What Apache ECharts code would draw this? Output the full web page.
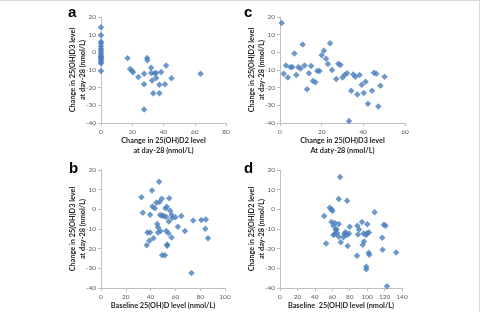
<!DOCTYPE html>
<html><head><meta charset="utf-8">
<script src="https://cdn.jsdelivr.net/npm/echarts@6/dist/echarts.min.js"></script>
<style>html,body{margin:0;padding:0;background:#fff}#c{width:480px;height:312px}</style>
</head><body><div id="c"></div>
<script>
// Panel a: x = change in 25(OH)D2, y = change in 25(OH)D3
const aX = [0,0,0,0,0,0,0,0,0,0,0,0,0,0,0,0, 17,18.6,19.9,20.5,23.9,27.6,27.6,27.6,29.5,29.7,32.1,32.1,32.7,33.4,35.3,35.3,37.4,37.4,38.5,40.9,41.7,45.1,63.7,34.2];
const aY = [14.2,9.6,6,5,3.5,2,1,-0.3,-1.3,-2.3,-3.3,-4.3,-5.3,-6.3,-2.8,-10.6, -3.4,-9.4,-10.4,-11.3,-13.9,-12.1,-18.1,-32.4,-3.2,-4.5,-8.7,-11.7,-16,-23.2,-11.7,-14.5,-18.3,-23.2,-11.1,-18.1,-7.4,-14.7,-12.1,-11.9];
// Panel b: x = baseline 25(OH)D, y = change in 25(OH)D3
const bX = [32.6,33.7,37.5,36.9,39.6,39.6,39,41.2,41.5,42.3,43.4,44.7,45.3,46,46,46.9,47.2,47.7,48,49,49.3,49.3,50.7,51.5,52,52.6,52.6,53.1,53.4,53.4,54.4,54.7,55,55.8,56.9,56.9,57.4,60,62,64.7,67.7,73,74.4,80.9,84.6,84.1,86.3];
const bY = [6.1,-1.7,-11.8,-18.2,-2.7,-11.8,-16,9.6,1.5,-14.7,0.5,3.4,-7.4,-9.1,-11.8,14,3.7,-2.9,-11,5.4,-3.2,-23.3,-3.4,-23.3,0.5,-3.9,-11,1.3,-17.9,-18.5,-12.1,-6.2,5.6,-0.7,-2.7,-14.3,-4.4,-4,-8.9,-3.4,-11,-32.4,-5.7,-5.4,-5.2,-9.9,-14.7];
// Panel c: x = change in 25(OH)D3, y = change in 25(OH)D2
const cX = [0.8,1.8,2.9,3.8,5,5.9,6.9,7.8,8.8,9.9,10.9,11.8,13,13.9,14.9,15.8,17,17.9,19,20,21.1,22.1,23,24,25,27,28,29,30,31,32.2,33.1,34.2,35.2,36.2,37.1,38.2,39.2,40.2,41.1,42.2,44.2,45.1,46.2,47.2,48.2,50.2];
const cY = [16.6,-12.1,-7.4,-14.3,-8.5,-8.3,-0.6,-12.8,-8.5,-9.1,4.5,-7.4,-20.9,-11.9,-7.7,-16.2,-17,-10.6,-10.6,-1.7,0.9,-3.6,-6.6,5.1,-10,-15.1,-6.4,-7.2,-14.2,-12.8,-11.9,-38.9,-21.7,-12.5,-13.8,-23.8,-12.8,-18.3,-23,-16.6,-29.1,-21.7,-11.5,-12.1,-30.6,-18.9,-13.8];
// Panel d: x = baseline 25(OH)D, y = change in 25(OH)D2
const dX = [50.7,52.9,57.1,59,60.2,59,61.3,61.3,62.9,64,62.9,64.8,65.5,67.4,67.4,67.4,69,69.7,72.8,73.9,75,77,77,77.7,79.2,80,88.4,88.8,89.5,90.7,94.1,94.9,96,96.4,98.7,99,99,99.8,100.2,101.7,102.1,102.5,108.6,117.3,117.7,119.2,121.1,122.7,133.3];
const dY = [-3.4,-17.4,0.8,0,-0.8,-6.4,-8.4,-13,-7,-10.5,-12.6,-10.1,-12,-7.4,-14,5.2,16.5,-16.7,-14.2,-12.6,-11.6,-13,4.4,-18.7,-12.3,-8.9,-23.6,-8.4,-12.8,-10.3,-6.4,-18,-12.3,-16.4,-13.1,-29.2,-30.5,-12.1,-7.6,-22.1,-11.8,-23.1,-1.5,-14.5,-20.6,-7.8,-8.4,-39.1,-21.9];

const yTicks = {min:-40, max:20, interval:10};
const panels = [
  {x:aX, y:aY, xmax:80, grid:{left:101, top:17, width:125, height:106},
   xname:'Change in 25(OH)D2 level\nat day-28 (nmol/L)', yname:'Change in 25(OH)D3 level\nat day-28 (nmol/L)', letter:'a', lx:73, ly:13},
  {x:bX, y:bY, xmax:100, grid:{left:101, top:170, width:124, height:119},
   xname:'Baseline 25(OH)D level (nmol/L)', yname:'Change in 25(OH)D3 level\nat day-28 (nmol/L)', letter:'b', lx:74, ly:169},
  {x:cX, y:cY, xmax:60, grid:{left:280, top:17, width:125, height:106},
   xname:'Change in 25(OH)D3 level\nAt daty-28 (nmol/L)', yname:'Change in 25(OH)D2 level\nat day-28 (nmol/L)', letter:'c', lx:249, ly:13},
  {x:dX, y:dY, xmax:140, grid:{left:280, top:170, width:122, height:119},
   xname:'Baseline  25(OH)D level (nmol/L)', yname:'Change in 25(OH)D2 level\nat day-28 (nmol/L)', letter:'d', lx:249, ly:169}
];

const axisCol = '#bfbfbf', labCol = '#595959', titleCol = '#262626';
const FONT = 'Lato, "Open Sans", sans-serif';
const option = {animation:false, backgroundColor:'#fff', grid:[], xAxis:[], yAxis:[], series:[], graphic:[]};
panels.forEach((p,i)=>{
  option.grid.push(Object.assign({containLabel:false}, p.grid));
  option.xAxis.push({gridIndex:i, type:'value', min:0, max:p.xmax, interval:20,
    axisLine:{show:true, onZero:false, lineStyle:{color:axisCol}}, axisTick:{show:true, length:3, lineStyle:{color:axisCol}},
    splitLine:{show:false}, axisLabel:{color:labCol, fontSize:6.5, fontFamily:FONT, margin:5},
    name:p.xname, nameLocation:'middle', nameGap:13, nameMoveOverlap:false,
    nameTextStyle:{color:titleCol, fontSize:7.3, fontWeight:'bold', fontFamily:FONT, lineHeight:10, verticalAlign:'top'}});
  option.yAxis.push({gridIndex:i, type:'value', min:yTicks.min, max:yTicks.max, interval:yTicks.interval,
    axisLine:{show:true, onZero:false, lineStyle:{color:axisCol}}, axisTick:{show:true, length:3, lineStyle:{color:axisCol}},
    splitLine:{show:false}, axisLabel:{color:labCol, fontSize:6.5, fontFamily:FONT, margin:5},
    name:p.yname, nameLocation:'middle', nameGap:13, nameMoveOverlap:false,
    nameTextStyle:{color:titleCol, fontSize:7.3, fontWeight:'bold', fontFamily:FONT, lineHeight:10}});
  option.series.push({type:'scatter', xAxisIndex:i, yAxisIndex:i, symbol:'diamond', symbolSize:6.5,
    itemStyle:{color:'#4a7ebb'}, data:p.x.map((v,k)=>[v,p.y[k]])});
  option.graphic.push({type:'text', left:p.lx-5, top:p.ly-8, style:{text:p.letter, font:'bold 15px "Liberation Sans", Arial, sans-serif', fill:'#000'}});
});
option.graphic.push({type:'line', shape:{x1:0,y1:0.5,x2:480,y2:0.5}, style:{stroke:'#d9d9d9', lineWidth:1}});
option.graphic.push({type:'line', shape:{x1:479.5,y1:0,x2:479.5,y2:312}, style:{stroke:'#d9d9d9', lineWidth:1}});
const chart = echarts.init(document.getElementById('c'), null, {renderer:'canvas'});
chart.setOption(option);
</script></body></html>
